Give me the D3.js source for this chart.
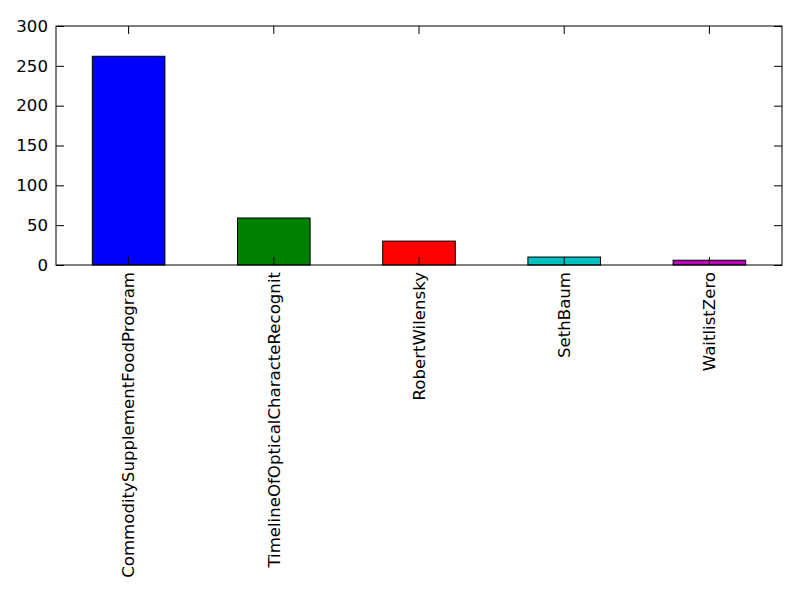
<!DOCTYPE html>
<html>
<head>
<meta charset="utf-8">
<script src="https://cdn.jsdelivr.net/npm/d3@7"></script>
<style>
	body { margin: 0; background: #fff; }
	text { font-family: 'DejaVu Sans', sans-serif; }
</style>
</head>
<body>
<div id="chart"></div>
<script>
var categories = ['CommoditySupplementFoodProgram', 'TimelineOfOpticalCharacteRecognit',
	'RobertWilensky', 'SethBaum', 'WaitlistZero'];
var values = [262, 59, 30, 10, 6];
var colors = ['#0000ff', '#008000', '#ff0000', '#00bfbf', '#bf00bf'];
var yTicks = [0, 50, 100, 150, 200, 250, 300];

var margin = {top: 26, right: 18, bottom: 335, left: 56},
	width = 800 - margin.left - margin.right,
	height = 600 - margin.top - margin.bottom;

var svg = d3.select('#chart')
	.append('svg')
	.attr('width', 800)
	.attr('height', 600)
	.append('g')
	.attr('transform', 'translate(' + margin.left + ',' + margin.top + ')');

var x = d3.scaleBand()
	.domain(categories)
	.range([0, width])
	.paddingInner(0.5)
	.paddingOuter(0.25);

var y = d3.scaleLinear()
	.domain([0, 300])
	.range([height, 0]);

svg.selectAll('rect.bar')
	.data(categories)
	.enter()
	.append('rect')
	.attr('class', 'bar')
	.attr('x', function(d) {return x(d)})
	.attr('y', function(d, i) {return y(values[i])})
	.attr('width', x.bandwidth())
	.attr('height', function(d, i) {return y(0) - y(values[i])})
	.attr('fill', function(d, i) {return colors[i]})
	.attr('stroke', '#000')
	.attr('stroke-width', 1);

// inward ticks on all four sides
var yAxis = d3.axisLeft(y).tickValues(yTicks).tickSizeInner(-8).tickSizeOuter(0).tickPadding(8);
var yAxisR = d3.axisRight(y).tickValues(yTicks).tickSizeInner(-8).tickSizeOuter(0).tickFormat('');
var xAxis = d3.axisBottom(x).tickSizeInner(-8).tickSizeOuter(0).tickPadding(8);
var xAxisT = d3.axisTop(x).tickSizeInner(-8).tickSizeOuter(0).tickFormat('');

svg.append('g').attr('class', 'y-axis').call(yAxis)
	.selectAll('text').style('font-size', '16.6px').attr('fill', '#000');
svg.append('g').attr('transform', 'translate(' + width + ',0)').call(yAxisR);
svg.append('g').call(xAxisT);

svg.append('g')
	.attr('class', 'x-axis')
	.attr('transform', 'translate(0,' + height + ')')
	.call(xAxis)
	.selectAll('text')
	.style('font-size', '16.6px')
	.attr('fill', '#000')
	.style('text-anchor', 'end')
	.attr('transform', 'rotate(-90)')
	.attr('x', -7)
	.attr('y', 0)
	.attr('dy', '.35em');

svg.selectAll('.domain').remove();
svg.selectAll('.tick line').attr('stroke', '#000');

svg.append('rect')
	.attr('width', width)
	.attr('height', height)
	.attr('fill', 'none')
	.attr('stroke', '#000')
	.attr('stroke-width', 1);
</script>
</body>
</html>
